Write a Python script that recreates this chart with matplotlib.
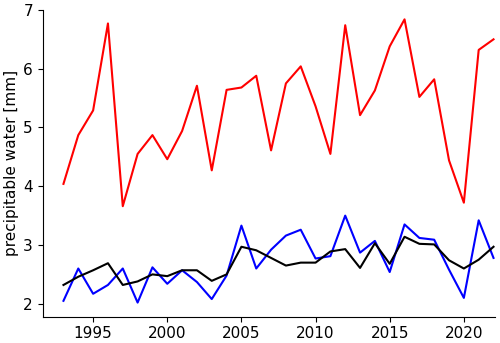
import matplotlib
matplotlib.use('Agg')
import matplotlib.pyplot as plt
import numpy as np

years = np.arange(1993, 2023)

red_vals = [4.04, 4.87, 5.29, 6.77, 3.66, 4.55, 4.87, 4.46, 4.94, 5.71,
            4.27, 5.64, 5.68, 5.88, 4.61, 5.75, 6.04, 5.36, 4.55, 6.74,
            5.21, 5.63, 6.38, 6.84, 5.52, 5.82, 4.44, 3.72, 6.32, 6.50]
blue_vals = [2.05, 2.60, 2.17, 2.32, 2.60, 2.02, 2.62, 2.34, 2.57, 2.37,
             2.08, 2.48, 3.33, 2.60, 2.92, 3.16, 3.26, 2.77, 2.81, 3.50,
             2.87, 3.07, 2.54, 3.35, 3.12, 3.09, 2.58, 2.10, 3.42, 2.78]
black_vals = [2.32, 2.46, 2.57, 2.69, 2.32, 2.38, 2.50, 2.47, 2.57, 2.57,
              2.39, 2.50, 2.97, 2.91, 2.78, 2.65, 2.70, 2.70, 2.89, 2.93,
              2.61, 3.03, 2.68, 3.14, 3.02, 3.01, 2.74, 2.60, 2.75, 2.97]

fig = plt.figure(figsize=(5, 3.43), dpi=100)
ax = fig.add_axes([0.0854, 0.0767, 0.9046, 0.8943])

ax.plot(years, red_vals, color='red', linewidth=1.5)
ax.plot(years, blue_vals, color='blue', linewidth=1.5)
ax.plot(years, black_vals, color='black', linewidth=1.5)

ax.set_xlim(1991.6, 2022.1)
ax.set_ylim(1.78, 7)
ax.set_xticks([1995, 2000, 2005, 2010, 2015, 2020])
ax.set_yticks([2, 3, 4, 5, 6, 7])
ax.tick_params(labelsize=11)
ax.set_ylabel('precipitable water [mm]', fontsize=11, labelpad=3)

ax.spines['top'].set_visible(False)
ax.spines['right'].set_visible(False)

fig.savefig('out.png', dpi=100)
